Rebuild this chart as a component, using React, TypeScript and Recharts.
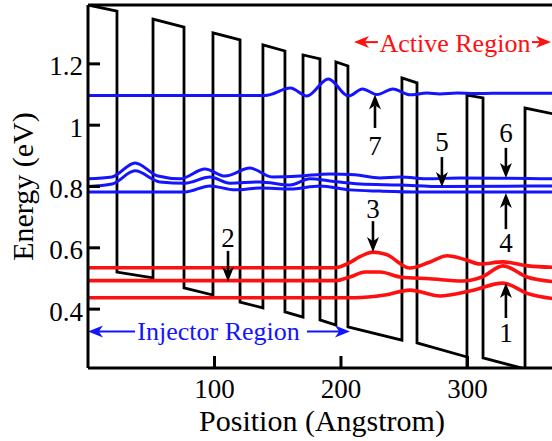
import { ComposedChart, Line, XAxis, YAxis, ReferenceLine, ReferenceDot } from 'recharts'

const FONT = '"Liberation Serif", "Times New Roman", serif'
const BLUE = '#1414ff'
const RED = '#ff1010'

// conduction band edge (x in Angstrom, energy in eV), read corner by corner
const bandX = [0, 22.9, 22.9, 51.4, 51.4, 75.9, 75.9, 98.8, 98.8, 120.2, 120.2, 138.3, 138.3, 155.7, 155.7, 170, 170, 183.4, 183.4, 196, 196, 205.5, 205.5, 248.2, 248.2, 260.1, 260.1, 299.6, 299.6, 299.6, 312.3, 312.3, 345.5, 345.5, 370]
const bandE = [1.392, 1.372, 0.521, 0.502, 1.346, 1.32, 0.469, 0.446, 1.301, 1.278, 0.423, 0.404, 1.262, 1.242, 0.391, 0.374, 1.229, 1.216, 0.365, 0.348, 1.206, 1.193, 0.342, 0.299, 1.154, 1.138, 0.29, 0.244, 0.15, 1.098, 1.089, 0.241, 0.205, 1.056, 1.035]

// upper (blue) levels
const lvl7X = [0, 140, 160, 173, 190, 206, 217, 228.5, 241, 254.5, 268, 278, 292, 306, 320, 370]
const lvl7E = [1.097, 1.097, 1.121, 1.095, 1.151, 1.095, 1.118, 1.1, 1.118, 1.099, 1.105, 1.102, 1.105, 1.103, 1.104, 1.104]
const lvl6X = [0, 19, 37.2, 55.3, 72.7, 92.5, 108.3, 128.1, 145.5, 167.6, 191.3, 211.1, 230.8, 246.6, 270.4, 294.1, 370]
const lvl6E = [0.825, 0.831, 0.877, 0.834, 0.825, 0.857, 0.834, 0.86, 0.831, 0.834, 0.841, 0.838, 0.828, 0.831, 0.825, 0.828, 0.825]
const lvl5X = [0, 19, 37.2, 56.9, 76.7, 96.4, 112.3, 136, 159.7, 175.5, 191.3, 215, 246.6, 279.8, 370]
const lvl5E = [0.8, 0.808, 0.851, 0.815, 0.811, 0.831, 0.811, 0.815, 0.805, 0.825, 0.818, 0.808, 0.805, 0.8, 0.802]
const lvl4X = [0, 76.7, 96.4, 116.2, 136, 159.7, 183.4, 207.1, 230.8, 262.5, 370]
const lvl4E = [0.782, 0.782, 0.802, 0.789, 0.795, 0.792, 0.802, 0.789, 0.785, 0.782, 0.782]

// lower (red) levels
const lvl3X = [0, 195, 207, 215, 225.3, 236, 254.5, 270, 284, 298, 310, 328, 348, 370]
const lvl3E = [0.535, 0.535, 0.552, 0.571, 0.586, 0.578, 0.534, 0.553, 0.574, 0.562, 0.547, 0.554, 0.541, 0.536]
const lvl2X = [0, 195.3, 207.1, 219, 230.8, 246.6, 270.4, 296.4, 311.5, 328.1, 347, 370]
const lvl2E = [0.493, 0.493, 0.505, 0.521, 0.521, 0.505, 0.499, 0.492, 0.505, 0.541, 0.505, 0.489]
const lvl1X = [0, 211, 234.8, 254.5, 278.3, 302, 328.1, 348.2, 370]
const lvl1E = [0.437, 0.437, 0.446, 0.462, 0.443, 0.459, 0.485, 0.45, 0.433]

// numbered level markers 1..7
const markerNames = ['1', '2', '3', '4', '5', '6', '7']
const markerX = [330.4, 110.7, 225.3, 330.4, 279.8, 330.4, 226.9]
const markerTailE = [0.371, 0.59, 0.687, 0.661, 0.896, 0.926, 0.991]
const markerTipE = [0.485, 0.489, 0.586, 0.779, 0.798, 0.828, 1.1]
const markerTextE = [0.322, 0.632, 0.727, 0.616, 0.945, 0.975, 0.935]

// region annotations
const regionNames = ['Injector Region', 'Active Region']
const regionColors = [BLUE, RED]
const regionTextX = [103.2, 290.1]
const regionTextE = [0.329, 1.268]
const regionArrowE = [0.327, 1.271]
const regionLeftArrow = [[37.2, 0], [229.2, 210.3]]
const regionRightArrow = [[173.1, 207.1], [351, 366]]

const xTicks = [100, 200, 300]
const yTicks = [0.4, 0.6, 0.8, 1, 1.2]
const X_DOMAIN = [0, 370]
const Y_DOMAIN = [0.208, 1.392]

const pts = (xs: number[], es: number[]) => xs.map((x, i) => ({ x, e: es[i] }))

const arrowShape = (color: string, width: number, len: number, half: number) => (p: any) => {
  const { x1, y1, x2, y2 } = p
  const d = Math.hypot(x2 - x1, y2 - y1) || 1
  const ux = (x2 - x1) / d
  const uy = (y2 - y1) / d
  const bx = x2 - ux * len
  const by = y2 - uy * len
  const nx = x2 - ux * len * 0.72
  const ny = y2 - uy * len * 0.72
  return (
    <g>
      <line x1={x1} y1={y1} x2={nx} y2={ny} stroke={color} strokeWidth={width} />
      <path
        d={`M${x2},${y2}L${bx - uy * half},${by + ux * half}L${nx},${ny}L${bx + uy * half},${by - ux * half}Z`}
        fill={color}
      />
    </g>
  )
}

const textShape = (txt: string, color: string, size: number) => (p: any) => (
  <text x={p.cx} y={p.cy} dy="0.35em" textAnchor="middle" fill={color} fontSize={size} fontFamily={FONT}>
    {txt}
  </text>
)

const levels = [
  { xs: lvl7X, es: lvl7E, color: BLUE, w: 3 },
  { xs: lvl6X, es: lvl6E, color: BLUE, w: 3 },
  { xs: lvl5X, es: lvl5E, color: BLUE, w: 3 },
  { xs: lvl4X, es: lvl4E, color: BLUE, w: 3 },
  { xs: lvl3X, es: lvl3E, color: RED, w: 3.6 },
  { xs: lvl2X, es: lvl2E, color: RED, w: 3.6 },
  { xs: lvl1X, es: lvl1E, color: RED, w: 3.6 },
]

const axisStroke = { stroke: '#000', strokeWidth: 3 }

export default function App() {
  return (
    <div style={{ position: 'absolute', left: 0, top: 0, width: 552, height: 441, overflow: 'hidden', background: '#fff' }}>
      <ComposedChart width={560} height={441} margin={{ top: 5, right: 4, bottom: 10, left: 8 }}>
        <XAxis
          type="number"
          dataKey="x"
          domain={X_DOMAIN}
          ticks={xTicks}
          allowDataOverflow
          height={63}
          tickSize={-12}
          tickMargin={23}
          axisLine={axisStroke}
          tickLine={axisStroke}
          tick={{ fill: '#000', fontSize: 27, fontFamily: FONT }}
          label={{ value: 'Position (Angstrom)', position: 'insideBottom', offset: 0, fill: '#000', fontSize: 30, fontFamily: FONT }}
        />
        <XAxis
          xAxisId="top"
          orientation="top"
          mirror
          type="number"
          domain={X_DOMAIN}
          ticks={xTicks}
          tickSize={12}
          tick={false}
          axisLine={axisStroke}
          tickLine={axisStroke}
        />
        <YAxis
          type="number"
          domain={Y_DOMAIN}
          ticks={yTicks}
          allowDataOverflow
          width={80}
          tickSize={-12}
          tickMargin={17}
          axisLine={axisStroke}
          tickLine={axisStroke}
          tick={{ fill: '#000', fontSize: 27, fontFamily: FONT, dy: 2 }}
          tickFormatter={(v: number) => String(v)}
          label={{ value: 'Energy (eV)', angle: -90, position: 'insideLeft', offset: 14, textAnchor: 'middle', fill: '#000', fontSize: 30, fontFamily: FONT }}
        />
        <YAxis
          yAxisId="right"
          orientation="right"
          mirror
          type="number"
          domain={Y_DOMAIN}
          ticks={yTicks}
          tickSize={12}
          tick={false}
          axisLine={axisStroke}
          tickLine={axisStroke}
        />

        <Line
          data={pts(bandX, bandE)}
          dataKey="e"
          type="linear"
          stroke="#000"
          strokeWidth={2.8}
          strokeLinejoin="miter"
          dot={false}
          isAnimationActive={false}
        />
        {levels.map((l, i) => (
          <Line
            key={i}
            data={pts(l.xs, l.es)}
            dataKey="e"
            type="monotone"
            stroke={l.color}
            strokeWidth={l.w}
            dot={false}
            isAnimationActive={false}
          />
        ))}

        {markerNames.map((n, i) => (
          <ReferenceLine
            key={`ma${n}`}
            ifOverflow="visible"
            segment={[{ x: markerX[i], y: markerTailE[i] }, { x: markerX[i], y: markerTipE[i] }]}
            shape={arrowShape('#000', 2.6, 15, 6)}
          />
        ))}
        {markerNames.map((n, i) => (
          <ReferenceDot
            key={`mt${n}`}
            x={markerX[i]}
            y={markerTextE[i]}
            r={0}
            ifOverflow="visible"
            shape={textShape(n, '#000', 27)}
          />
        ))}

        {regionNames.map((n, i) => (
          <ReferenceLine
            key={`rl${i}`}
            ifOverflow="visible"
            segment={[{ x: regionLeftArrow[i][0], y: regionArrowE[i] }, { x: regionLeftArrow[i][1], y: regionArrowE[i] }]}
            shape={arrowShape(regionColors[i], 2, 15, 6)}
          />
        ))}
        {regionNames.map((n, i) => (
          <ReferenceLine
            key={`rr${i}`}
            ifOverflow="visible"
            segment={[{ x: regionRightArrow[i][0], y: regionArrowE[i] }, { x: regionRightArrow[i][1], y: regionArrowE[i] }]}
            shape={arrowShape(regionColors[i], 2, 15, 6)}
          />
        ))}
        {regionNames.map((n, i) => (
          <ReferenceDot
            key={`rt${i}`}
            x={regionTextX[i]}
            y={regionTextE[i]}
            r={0}
            ifOverflow="visible"
            shape={textShape(n, regionColors[i], 26)}
          />
        ))}
      </ComposedChart>
    </div>
  )
}
